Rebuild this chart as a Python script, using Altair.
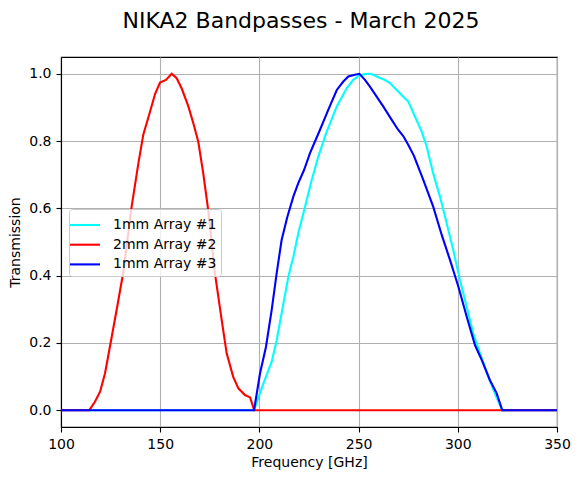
import altair as alt
import pandas as pd

series_names = ["1mm Array #1", "2mm Array #2", "1mm Array #3"]
series_colors = ["cyan", "red", "blue"]

freq_a1 = [100, 197.3, 202.0, 206.2, 208.7, 211.2, 214.6, 217.1, 219.6, 223.0, 226.4, 229.7,
           233.6, 239.0, 244.0, 247.3, 250.4, 253.2, 256.1, 259.1, 262.4, 265.5, 269.2, 272.5,
           275.0, 278.4, 281.8, 284.3, 287.6, 291.0, 294.4, 297.7, 301.1, 304.5, 307.8, 311.2,
           315.4, 318.7, 322.4, 350]
trans_a1 = [0, 0, 0.079, 0.144, 0.208, 0.288, 0.397, 0.456, 0.526, 0.605, 0.685, 0.754,
            0.823, 0.903, 0.957, 0.982, 0.995, 0.999, 1.0, 0.992, 0.984, 0.974, 0.952, 0.932,
            0.918, 0.873, 0.828, 0.784, 0.704, 0.635, 0.556, 0.476, 0.387, 0.307, 0.228, 0.169,
            0.099, 0.05, 0, 0]

freq_a2 = [100, 114.3, 117.1, 119.7, 122.2, 124.7, 128.1, 131.4, 135.6, 139.0, 141.5, 144.5,
           147.4, 149.9, 152.9, 155.8, 158.3, 160.8, 164.2, 166.7, 169.2, 171.7, 174.2, 177.6,
           181.0, 183.5, 186.8, 189.4, 192.7, 195.3, 197.4, 350]
trans_a2 = [0, 0, 0.025, 0.055, 0.11, 0.19, 0.30, 0.41, 0.605, 0.734, 0.82, 0.88,
            0.94, 0.974, 0.982, 1.0, 0.987, 0.957, 0.903, 0.853, 0.798, 0.704, 0.595, 0.407,
            0.268, 0.169, 0.099, 0.065, 0.045, 0.038, 0, 0]

freq_a3 = [100, 197.3, 200.3, 203.3, 206.2, 208.7, 211.2, 214.1, 217.1, 219.6, 222.5, 225.5,
           230.5, 234.7, 239.0, 242.3, 244.8, 248.2, 250.4, 253.2, 255.7, 259.1, 262.4, 266.7,
           270.0, 272.5, 275.0, 277.9, 282.6, 287.6, 291.9, 296.1, 300.3, 304.5, 308.7, 312.1,
           316.2, 319.6, 322.4, 350]
trans_a3 = [0, 0, 0.109, 0.188, 0.298, 0.407, 0.506, 0.575, 0.635, 0.675, 0.714, 0.764,
            0.833, 0.893, 0.952, 0.977, 0.992, 0.997, 1.0, 0.982, 0.962, 0.932, 0.903, 0.863,
            0.833, 0.815, 0.789, 0.756, 0.685, 0.605, 0.521, 0.446, 0.367, 0.278, 0.193, 0.149,
            0.089, 0.05, 0, 0]

x_ticks = [100, 150, 200, 250, 300, 350]
y_ticks = [0.0, 0.2, 0.4, 0.6, 0.8, 1.0]

def frame(f, t, name):
    return pd.DataFrame({"freq": f, "trans": t, "series": name})

color = alt.Color("series:N",
                  scale=alt.Scale(domain=series_names, range=series_colors),
                  sort=series_names,
                  legend=alt.Legend(title=None, orient="none", legendX=8, legendY=152,
                                    symbolType="M-1.5,0H1.5", symbolSize=400,
                                    symbolStrokeWidth=2.1, labelOffset=16.5,
                                    labelFontSize=14, labelFont="DejaVu Sans",
                                    labelColor="black",
                                    rowPadding=0.7, padding=4.5,
                                    fillColor="rgba(255,255,255,0.8)",
                                    strokeColor="#cccccc", cornerRadius=3))

xenc = alt.X("freq:Q", scale=alt.Scale(domain=[100, 350], nice=False, zero=False),
             axis=alt.Axis(values=x_ticks, format="d", title="Frequency [GHz]", grid=True,
                           labelFlush=False))
yenc = alt.Y("trans:Q", scale=alt.Scale(domain=[-0.05, 1.05], nice=False, zero=False),
             axis=alt.Axis(values=y_ticks, format=".1f", title="Transmission", grid=True))

layers = []
for f, t, name in [(freq_a1, trans_a1, series_names[0]),
                   (freq_a2, trans_a2, series_names[1]),
                   (freq_a3, trans_a3, series_names[2])]:
    layers.append(
        alt.Chart(frame(f, t, name)).mark_line(strokeWidth=2.1, clip=True).encode(
            x=xenc, y=yenc, color=color)
    )

chart = alt.layer(*layers).properties(
    width=496, height=370,
    title=alt.TitleParams("NIKA2 Bandpasses - March 2025", fontSize=22, font="DejaVu Sans",
                          fontWeight="normal", color="black", anchor="middle",
                          frame="group", offset=24, dx=-8),
    autosize="none",
    padding={"left": 53, "top": 49, "right": 15, "bottom": 45},
).configure_view(stroke="black", strokeWidth=1.1).configure_axis(
    labelFont="DejaVu Sans", labelFontSize=14, labelColor="black",
    titleFont="DejaVu Sans", titleFontSize=14, titleFontWeight="normal", titleColor="black",
    domainColor="black", domainWidth=1.1, tickColor="black", tickWidth=1.1, tickSize=5,
    labelPadding=5, gridColor="#b0b0b0", gridWidth=1.1,
).configure_axisX(titlePadding=4).configure_axisY(titlePadding=6)

chart.save("out.html", embed_options={"renderer": "svg", "actions": False})
